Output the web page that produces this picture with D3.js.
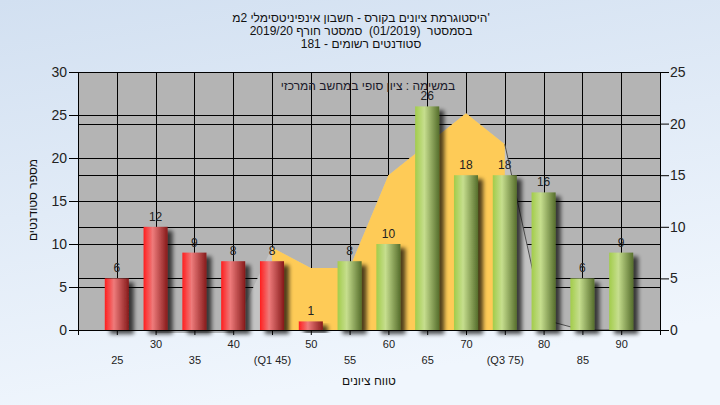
<!DOCTYPE html>
<html><head><meta charset="utf-8">
<script src="https://cdn.jsdelivr.net/npm/d3@7"></script>
<style>
html,body{margin:0;padding:0;}
svg{display:block;}
text{font-family:"Liberation Sans",Arial,sans-serif;}
</style></head><body>
<svg id="c" width="720" height="405"></svg>
<script>
// ---- data ----
const titleLines = ["היסטוגרמת ציונים בקורס - חשבון אינפיניטסימלי 2מ'", "בסמסטר  (01/2019)  סמסטר חורף 2019/20", "סטודנטים רשומים - 181"];
const plotNote = "במשימה : ציון סופי במחשב המרכזי";
const xTitle = "טווח ציונים";
const yTitle = "מספר סטודנטים";
const categories = [25,30,35,40,45,50,55,60,65,70,75,80,85,90];
const categoryLabels = ["25","30","35","40","(Q1 45)","50","55","60","65","70","(Q3 75)","80","85","90"];
const counts = [6,12,9,8,8,1,8,10,26,18,18,16,6,9];
const passMark = 55;
const curveCats = [30,35,40,45,50,55,60,65,70,75,80,85,90];
const curveVals = [0,0,0,8,6,6,15,18,21,18,1,0,0];
const q1 = 45, q3 = 75;
const leftTicks = [0,5,10,15,20,25,30];
const rightTicks = [0,5,10,15,20,25];

// ---- layout ----
const W = 720, H = 405;
const L = 78, R = 660, T = 72, B = 330;
const svg = d3.select("#c");
const defs = svg.append("defs");

const bg = defs.append("linearGradient").attr("id","bg").attr("x1",0).attr("y1",0).attr("x2",0.3).attr("y2",1);
bg.append("stop").attr("offset","0%").attr("stop-color","#d2e0f1");
bg.append("stop").attr("offset","100%").attr("stop-color","#f0f6fd");

function cyl(id, c0, c1, c2){
  const g = defs.append("linearGradient").attr("id",id).attr("x1",0).attr("y1",0).attr("x2",1).attr("y2",0);
  g.append("stop").attr("offset","0%").attr("stop-color",c0);
  g.append("stop").attr("offset","38%").attr("stop-color",c1);
  g.append("stop").attr("offset","100%").attr("stop-color",c2);
}
cyl("gRed","#ff1e1e","#ee7b7b","#861a1a");
cyl("gGreen","#a2cc4a","#c6de8e","#566e2c");

const f = defs.append("filter").attr("id","sh").attr("x","-50%").attr("y","-20%").attr("width","200%").attr("height","150%");
f.append("feGaussianBlur").attr("in","SourceAlpha").attr("stdDeviation",2).attr("result","b");
f.append("feOffset").attr("in","b").attr("dx",5).attr("dy",4).attr("result","o");
f.append("feComponentTransfer").attr("in","o").attr("result","o2")
  .append("feFuncA").attr("type","linear").attr("slope",0.7);
const fm = f.append("feMerge");
fm.append("feMergeNode").attr("in","o2");
fm.append("feMergeNode").attr("in","SourceGraphic");

svg.append("rect").attr("width",W).attr("height",H).attr("fill","url(#bg)");

const x = d3.scaleLinear().domain([20,95]).range([L,R]);
const yL = d3.scaleLinear().domain([0,30]).range([B,T]);
const yR = d3.scaleLinear().domain([0,25]).range([B,T]);

// plot background
svg.append("rect").attr("x",L).attr("y",T).attr("width",R-L).attr("height",B-T).attr("fill","#b4b4b4");

// grid
const grid = svg.append("g").attr("stroke","#000").attr("stroke-width",1).attr("shape-rendering","crispEdges");
grid.selectAll(".gl").data(leftTicks.slice(1)).join("line")
  .attr("x1",L).attr("x2",R).attr("y1",d=>Math.round(yL(d))+0.5).attr("y2",d=>Math.round(yL(d))+0.5);
grid.selectAll(".gr").data(rightTicks.slice(1,-1)).join("line")
  .attr("x1",L).attr("x2",R).attr("y1",d=>Math.round(yR(d))+0.5).attr("y2",d=>Math.round(yR(d))+0.5);
grid.selectAll(".gv").data(categories).join("line")
  .attr("y1",T).attr("y2",B).attr("x1",d=>Math.round(x(d))+0.5).attr("x2",d=>Math.round(x(d))+0.5);

// distribution area (grey) and quartile range (yellow)
const curve = curveCats.map((c,i)=>({c, v:curveVals[i]}));
const area = d3.area().x(d=>x(d.c)).y0(yR(0)).y1(d=>yR(d.v));
svg.append("path").datum(curve).attr("d",area).attr("fill","#c3c3c3");
svg.append("path").datum(curve.filter(d=>d.c>=q1 && d.c<=q3)).attr("d",area).attr("fill","#fecb57");
const ln = d3.line().x(d=>x(d.c)).y(d=>yR(d.v));
svg.append("path").datum(curve.filter(d=>d.c>=q3)).attr("d",ln).attr("fill","none").attr("stroke","#505050").attr("stroke-width",1);
svg.append("path").datum(curve.filter(d=>d.c<q1)).attr("d",ln).attr("fill","none").attr("stroke","#707070").attr("stroke-width",1).attr("transform","translate(0,2)");

// bars
const bw = (x(25)-x(20))*0.62;
const bars = categories.map((c,i)=>({c, v:counts[i]}));
svg.append("g").selectAll("rect").data(bars).join("rect")
  .attr("x",d=>x(d.c)-bw/2).attr("width",bw)
  .attr("y",d=>yL(d.v)).attr("height",d=>yL(0)-yL(d.v))
  .attr("fill",d=>d.c<passMark?"url(#gRed)":"url(#gGreen)")
  .attr("filter","url(#sh)");

// value labels
svg.append("g").selectAll("text").data(bars).join("text")
  .attr("x",d=>x(d.c)).attr("y",d=>yL(d.v)-6)
  .attr("text-anchor","middle").attr("font-size",12).attr("fill","#222")
  .text(d=>d.v);

// axes
const ax = svg.append("g").attr("stroke","#000").attr("shape-rendering","crispEdges");
ax.append("line").attr("x1",L+0.5).attr("x2",L+0.5).attr("y1",T).attr("y2",B+5).attr("stroke-width",1.5);
ax.append("line").attr("x1",R+0.5).attr("x2",R+0.5).attr("y1",T).attr("y2",B+5).attr("stroke-width",1.5);
ax.append("line").attr("x1",L).attr("x2",R).attr("y1",B+0.5).attr("y2",B+0.5).attr("stroke-width",1.5);
ax.append("line").attr("x1",L).attr("x2",R).attr("y1",T+0.5).attr("y2",T+0.5);

const yAxisL = svg.append("g").attr("transform",`translate(${L},0)`)
  .call(d3.axisLeft(yL).tickValues(leftTicks).tickSize(9).tickPadding(2));
const yAxisR = svg.append("g").attr("transform",`translate(${R},0)`)
  .call(d3.axisRight(yR).tickValues(rightTicks).tickSize(9).tickPadding(1));
[yAxisL,yAxisR].forEach(g=>{
  g.select(".domain").remove();
  g.selectAll(".tick line").attr("stroke","#000");
  g.selectAll("text").attr("font-size",14).attr("fill","#222").attr("font-family","'Liberation Sans',Arial,sans-serif");
});

const xAxis = svg.append("g").attr("transform",`translate(0,${B})`)
  .call(d3.axisBottom(x).tickValues(categories).tickSize(5).tickPadding(8)
    .tickFormat((d,i)=>categoryLabels[i]));
xAxis.select(".domain").remove();
xAxis.selectAll(".tick line").attr("stroke","#000");
xAxis.selectAll("text").attr("font-size",11).attr("fill","#222").attr("font-family","'Liberation Sans',Arial,sans-serif")
  .attr("dy",(d,i)=> i%2===0 ? "1.95em" : "0.45em");

// titles
svg.append("g").selectAll("text").data(titleLines).join("text")
  .attr("x",361).attr("y",(d,i)=>22+i*13)
  .attr("text-anchor","middle").attr("font-size",12).attr("fill","#111")
  .style("white-space","pre").text(d=>d);

svg.append("text").attr("x",368).attr("y",90).attr("text-anchor","middle")
  .attr("font-size",12).attr("fill","#1a1a2a").text(plotNote);

svg.append("text").attr("x",369).attr("y",385).attr("text-anchor","middle")
  .attr("font-size",12).attr("fill","#111").text(xTitle);

svg.append("text").attr("transform","translate(37,200) rotate(-90)").attr("text-anchor","middle")
  .attr("font-size",12).attr("fill","#111").text(yTitle);
</script>
</body></html>
